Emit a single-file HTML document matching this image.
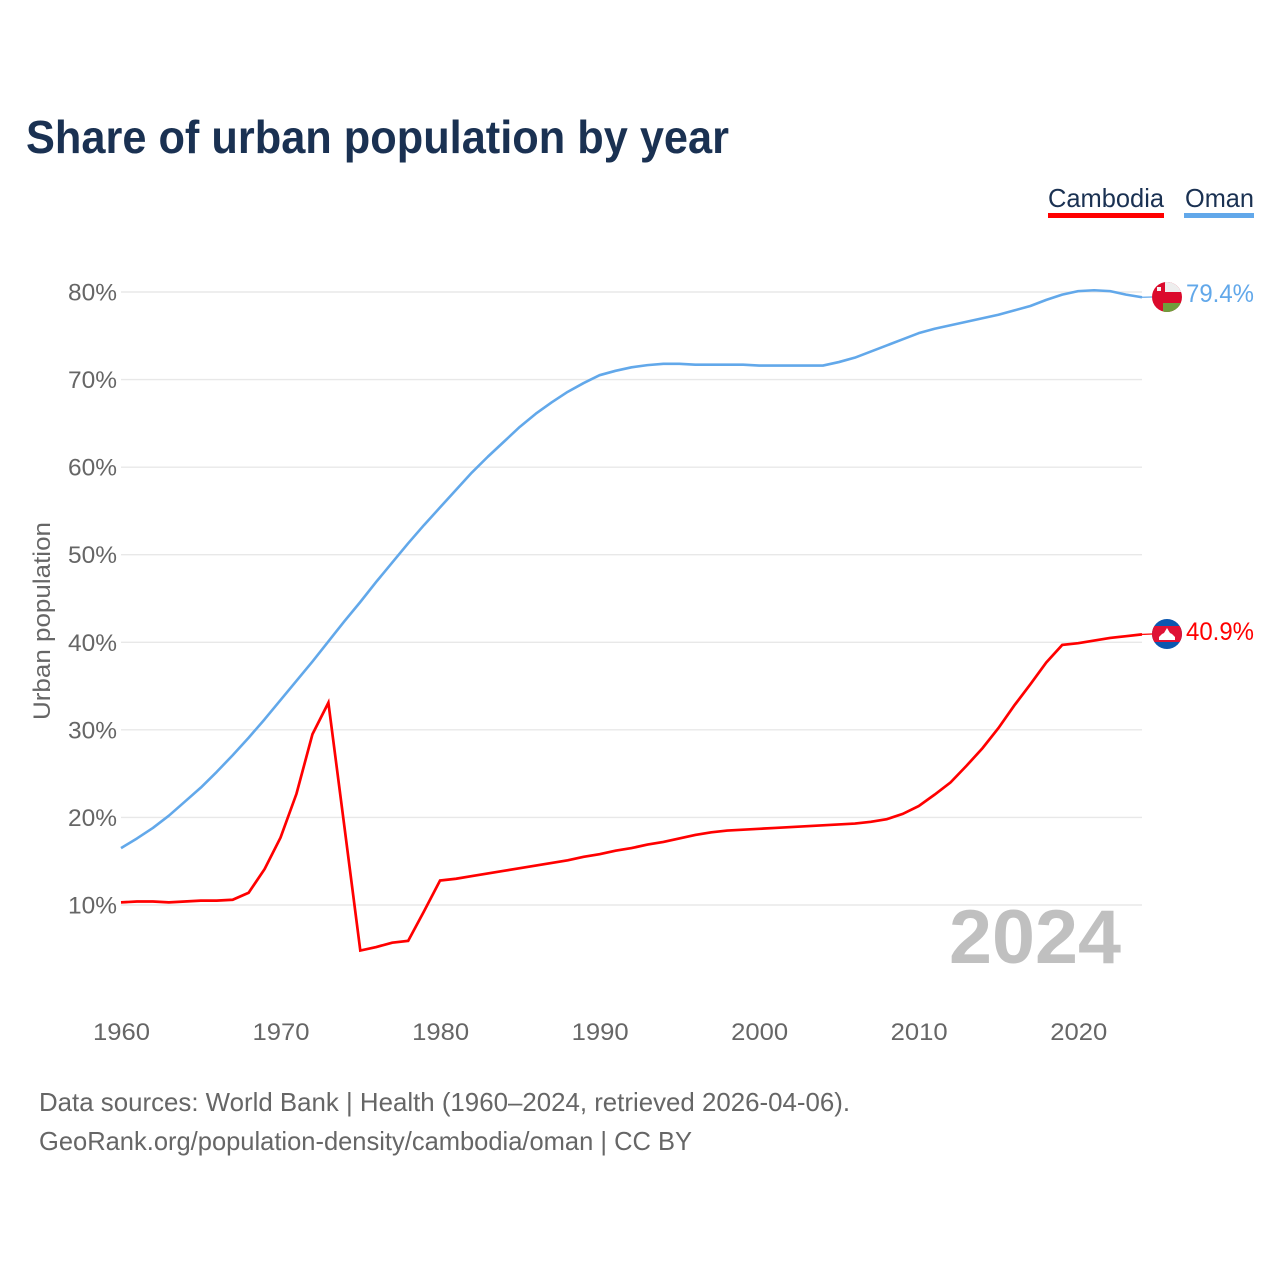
<!DOCTYPE html>
<html lang="en">
<head>
<meta charset="utf-8">
<title>Share of urban population by year</title>
<style>
  html, body { margin: 0; padding: 0; background: #fff; }
  svg { display: block; font-family: "Liberation Sans", sans-serif; }
</style>
</head>
<body>
<svg id="chart" width="1280" height="1280" viewBox="0 0 1280 1280" xmlns="http://www.w3.org/2000/svg">
  <defs>
    <clipPath id="flag-clip-oman"><circle cx="1167" cy="297" r="15"/></clipPath>
    <clipPath id="flag-clip-cambodia"><circle cx="1167" cy="634" r="15"/></clipPath>
  </defs>
  <rect width="1280" height="1280" fill="#ffffff"/>
  <text x="26" y="153" font-size="46" font-weight="700" fill="#1a3152" textLength="703" lengthAdjust="spacingAndGlyphs">Share of urban population by year</text>

  <g id="gridlines"></g>
  <g id="y-ticks"></g>
  <g id="x-ticks"></g>
  <text transform="translate(50,720) rotate(-90)" font-size="24" fill="#666666" textLength="198" lengthAdjust="spacingAndGlyphs">Urban population</text>
  <text x="949" y="963" font-size="76" font-weight="700" fill="#c0c0c0" textLength="172" lengthAdjust="spacingAndGlyphs">2024</text>

  <path id="line-oman" fill="none" stroke="#62a8ea" stroke-width="2.6" stroke-linejoin="round"/>
  <path id="line-cambodia" fill="none" stroke="#ff0000" stroke-width="2.7" stroke-linejoin="miter"/>
  <path id="connector-oman" fill="none" stroke="#62a8ea" stroke-width="1.2"/>
  <path id="connector-cambodia" fill="none" stroke="#ff0000" stroke-width="1.2"/>

  <g clip-path="url(#flag-clip-oman)">
    <rect x="1152" y="282" width="30" height="30" fill="#db0a2c"/>
    <rect x="1165" y="282" width="17" height="10" fill="#eeeeee"/>
    <rect x="1163" y="303" width="19" height="9" fill="#6f9e3c"/>
    <rect x="1157" y="287" width="4" height="4" fill="#f4f4f4"/>
  </g>
  <g clip-path="url(#flag-clip-cambodia)">
    <rect x="1152" y="619" width="30" height="30" fill="#0b57b0"/>
    <rect x="1152" y="626" width="30" height="16" fill="#df1235"/>
    <path d="M1159 640 L1159 637 L1162 634 L1164 633 L1167 628 L1170 633 L1172 634 L1175 637 L1175 640 Z" fill="#ffffff"/>
  </g>

  <text id="end-label-oman" x="1186" y="302" font-size="25" fill="#62a8ea" textLength="68" lengthAdjust="spacingAndGlyphs"></text>
  <text id="end-label-cambodia" x="1186" y="640" font-size="25" fill="#ff0000" textLength="68" lengthAdjust="spacingAndGlyphs"></text>

  <g>
    <g>
      <text x="1048" y="207" font-size="26" fill="#1a3152" textLength="116" lengthAdjust="spacingAndGlyphs">Cambodia</text>
      <rect x="1048" y="213" width="116" height="5" fill="#ff0000"/>
    </g>
    <g>
      <text x="1185" y="207" font-size="26" fill="#1a3152" textLength="69" lengthAdjust="spacingAndGlyphs">Oman</text>
      <rect x="1184" y="213" width="70" height="5" fill="#62a8ea"/>
    </g>
  </g>

  <text x="39" y="1111" font-size="26" fill="#666666" textLength="811" lengthAdjust="spacingAndGlyphs">Data sources: World Bank | Health (1960–2024, retrieved 2026-04-06).</text>
  <text x="39" y="1150" font-size="26" fill="#666666" textLength="653" lengthAdjust="spacingAndGlyphs">GeoRank.org/population-density/cambodia/oman | CC BY</text>
</svg>
<script>
const years = [1960,1961,1962,1963,1964,1965,1966,1967,1968,1969,1970,1971,1972,1973,1974,1975,1976,1977,1978,1979,1980,1981,1982,1983,1984,1985,1986,1987,1988,1989,1990,1991,1992,1993,1994,1995,1996,1997,1998,1999,2000,2001,2002,2003,2004,2005,2006,2007,2008,2009,2010,2011,2012,2013,2014,2015,2016,2017,2018,2019,2020,2021,2022,2023,2024];
const cambodia = [10.3,10.4,10.4,10.3,10.4,10.5,10.5,10.6,11.4,14.1,17.7,22.7,29.5,33.1,19.0,4.8,5.2,5.7,5.9,9.3,12.8,13.0,13.3,13.6,13.9,14.2,14.5,14.8,15.1,15.5,15.8,16.2,16.5,16.9,17.2,17.6,18.0,18.3,18.5,18.6,18.7,18.8,18.9,19.0,19.1,19.2,19.3,19.5,19.8,20.4,21.3,22.6,24.0,25.9,27.9,30.2,32.8,35.2,37.7,39.7,39.9,40.2,40.5,40.7,40.9];
const oman = [16.5,17.6,18.8,20.2,21.8,23.4,25.2,27.1,29.1,31.2,33.4,35.6,37.8,40.1,42.4,44.6,46.9,49.1,51.3,53.4,55.4,57.4,59.4,61.2,62.9,64.6,66.1,67.4,68.6,69.6,70.5,71.0,71.4,71.65,71.8,71.8,71.7,71.7,71.7,71.7,71.6,71.6,71.6,71.6,71.6,72.0,72.5,73.2,73.9,74.6,75.3,75.8,76.2,76.6,77.0,77.4,77.9,78.4,79.1,79.7,80.1,80.2,80.1,79.7,79.4];
const yTickValues = [10,20,30,40,50,60,70,80];
const xTickValues = [1960,1970,1980,1990,2000,2010,2020];

const SVG_NS = 'http://www.w3.org/2000/svg';
function xScale(year) { return 121 + (year - 1960) * (1142 - 121) / 64; }
function yScale(value) { return 905 - (value - 10) * (905 - 292) / 70; }
function linePath(series) {
  return series.map(function (v, i) {
    return (i ? 'L' : 'M') + xScale(years[i]).toFixed(2) + ' ' + yScale(v).toFixed(2);
  }).join(' ');
}

const gridGroup = document.getElementById('gridlines');
const yGroup = document.getElementById('y-ticks');
yTickValues.forEach(function (v) {
  const line = document.createElementNS(SVG_NS, 'line');
  
  
  line.setAttribute('x1', 121);
  line.setAttribute('x2', 1142);
  line.setAttribute('y1', yScale(v));
  line.setAttribute('y2', yScale(v));
  line.setAttribute('stroke', '#e8e8e8');
  line.setAttribute('stroke-width', '1.4');
  gridGroup.appendChild(line);

  const label = document.createElementNS(SVG_NS, 'text');
  
  
  label.setAttribute('x', 117);
  label.setAttribute('y', yScale(v) + 8.5);
  label.setAttribute('text-anchor', 'end');
  label.setAttribute('font-size', '24');
  label.setAttribute('fill', '#666666');
  label.setAttribute('textLength', '49');
  label.setAttribute('lengthAdjust', 'spacingAndGlyphs');
  label.textContent = v + '%';
  yGroup.appendChild(label);
});

const xGroup = document.getElementById('x-ticks');
xTickValues.forEach(function (yr) {
  const label = document.createElementNS(SVG_NS, 'text');
  
  
  label.setAttribute('x', xScale(yr) + 0.5);
  label.setAttribute('y', 1040);
  label.setAttribute('text-anchor', 'middle');
  label.setAttribute('font-size', '24');
  label.setAttribute('fill', '#666666');
  label.setAttribute('textLength', '57');
  label.setAttribute('lengthAdjust', 'spacingAndGlyphs');
  label.textContent = yr;
  xGroup.appendChild(label);
});

document.getElementById('line-oman').setAttribute('d', linePath(oman));
document.getElementById('line-cambodia').setAttribute('d', linePath(cambodia));

const lastIndex = years.length - 1;
const xEnd = xScale(years[lastIndex]);
document.getElementById('connector-oman').setAttribute('d', 'M' + xEnd + ' ' + yScale(oman[lastIndex]) + ' L1152 297');
document.getElementById('connector-cambodia').setAttribute('d', 'M' + xEnd + ' ' + yScale(cambodia[lastIndex]) + ' L1152 634');
document.getElementById('end-label-oman').textContent = oman[lastIndex].toFixed(1) + '%';
document.getElementById('end-label-cambodia').textContent = cambodia[lastIndex].toFixed(1) + '%';
</script>
</body>
</html>
